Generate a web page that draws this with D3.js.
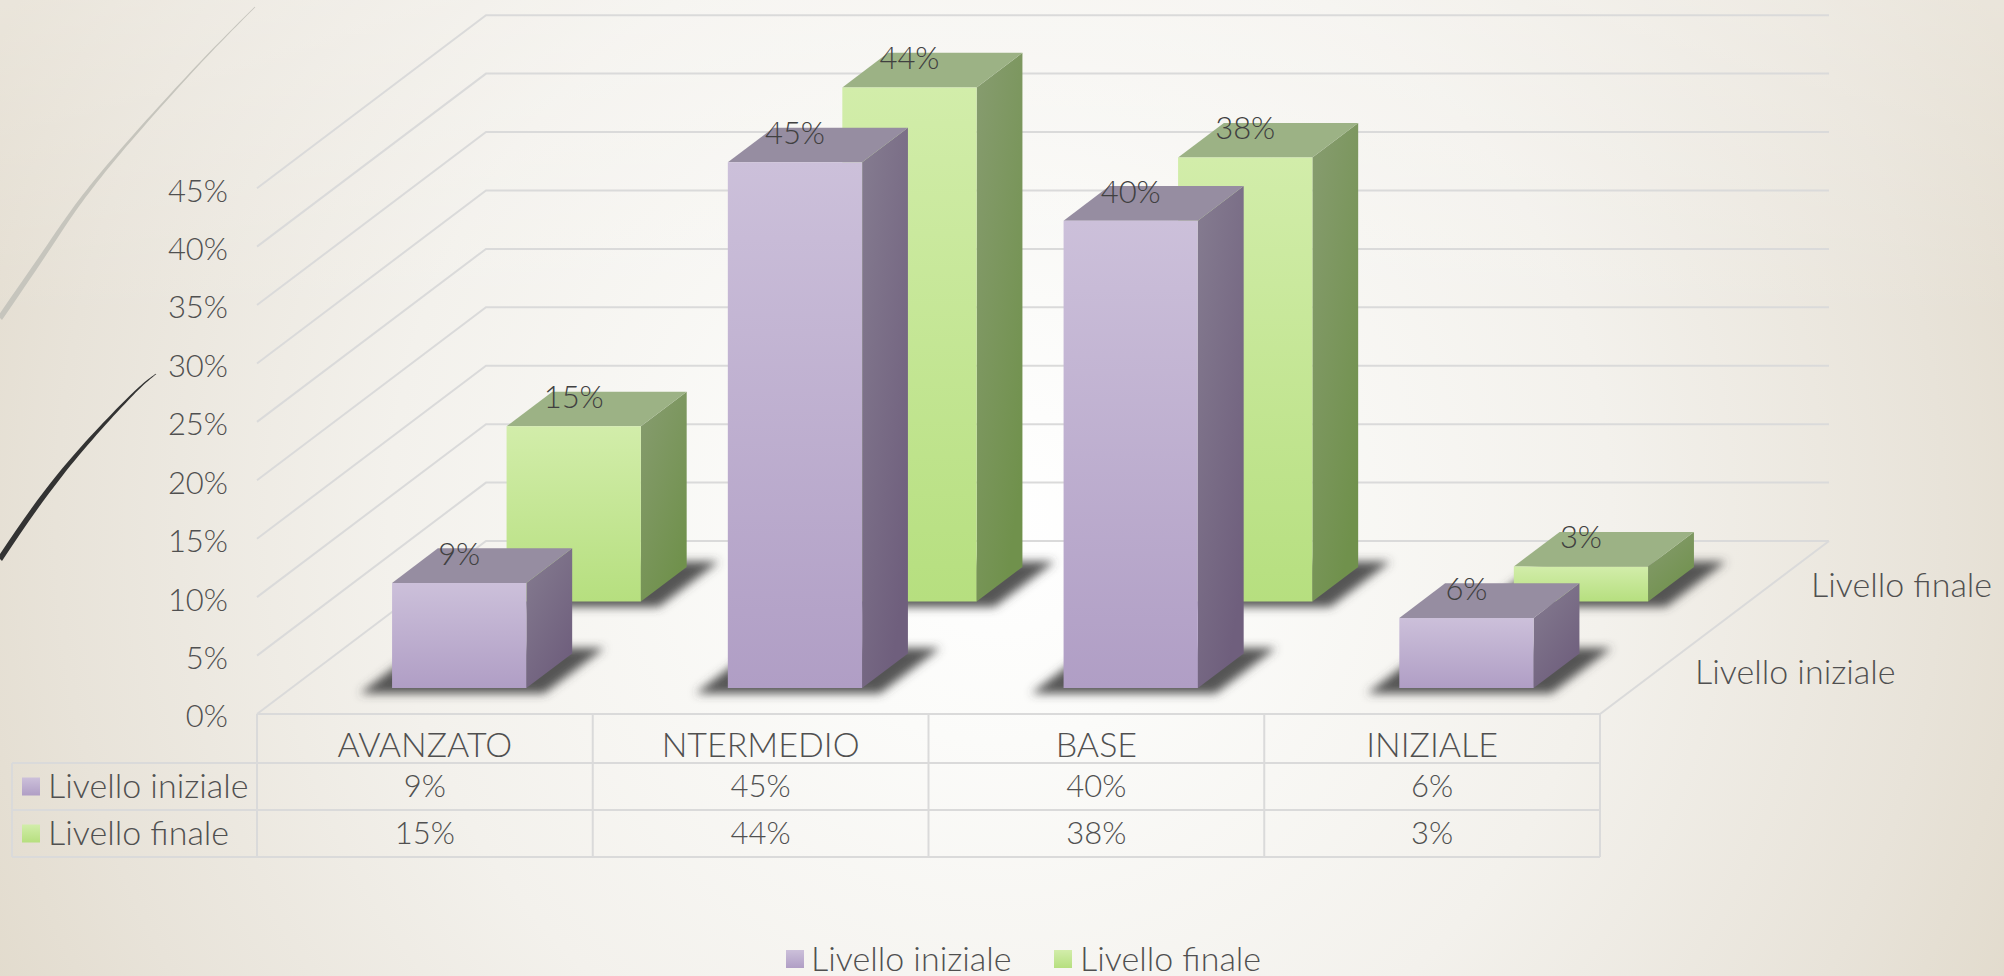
<!DOCTYPE html>
<html><head><meta charset="utf-8">
<script src="https://cdn.jsdelivr.net/npm/d3@7/dist/d3.min.js"></script>
<style>html,body{margin:0;padding:0;overflow:hidden;background:#fff}svg{display:block}
text{font-family:Lato,"Open Sans",sans-serif;font-weight:300;fill:#505050}</style></head>
<body><svg id="c" width="2004" height="976"></svg>
<script>
const categories=["AVANZATO","NTERMEDIO","BASE","INIZIALE"];
const seriesNames=["Livello iniziale","Livello finale"];
const livelloIniziale=[9,45,40,6];
const livelloFinale=[15,44,38,3];
const valueTicks=[0,5,10,15,20,25,30,35,40,45];

const svg=d3.select("#c"),defs=svg.append("defs");
const W=2004,H=976,fs=34,fsNum=31;
const X0=257,X1=1600,Y0=714,DX=229,DY=173,TOP=188.2;
const xBand=d3.scaleBand().domain(categories).range([X0,X1]).paddingInner(0.6).paddingOuter(0.3);
const xCol=d3.scaleBand().domain(categories).range([X0,X1]);
const dBand=d3.scaleBand().domain(seriesNames).range([0,1]).paddingInner(0.6).paddingOuter(0.3);
const yPos=d3.scaleLinear().domain([0,45]).range([Y0,TOP]);
const P=(x,d,v)=>[x+d*DX,yPos(v)-d*DY];
const poly=pts=>pts.map(p=>p.join(",")).join(" ");

function grad(id,stops,x2=0,y2=1){const g=defs.append("linearGradient").attr("id",id).attr("x1",0).attr("y1",0).attr("x2",x2).attr("y2",y2);
 stops.forEach((c,i)=>g.append("stop").attr("offset",i/(stops.length-1)).attr("stop-color",c));}
const bg=defs.append("radialGradient").attr("id","bg").attr("gradientUnits","userSpaceOnUse").attr("cx",1000).attr("cy",520).attr("r",1110);
[[0,"#ffffff"],[0.2,"#fbfbf9"],[0.55,"#f3f1ec"],[0.85,"#e8e3d9"],[1,"#e2dbcd"]].forEach(s=>bg.append("stop").attr("offset",s[0]).attr("stop-color",s[1]));
const veil=defs.append("linearGradient").attr("id","veil").attr("x1",0).attr("y1",0).attr("x2",0).attr("y2",1);
veil.append("stop").attr("offset",0).attr("stop-color","#fff").attr("stop-opacity",0.28);
veil.append("stop").attr("offset",1).attr("stop-color","#fff").attr("stop-opacity",0);
grad("f0",["#ccc0da","#b09ec5"]);grad("s0",["#857c90","#6f5f7d"],0.6,1);
grad("f1",["#d2edaa","#b6df7f"]);grad("s1",["#879c70","#70914c"],0.6,1);
const blur=defs.append("filter").attr("id","sh").attr("x","-30%").attr("y","-40%").attr("width","160%").attr("height","180%");
blur.append("feGaussianBlur").attr("stdDeviation",5);
const topFill=["#968da1","#9cb285"];

svg.append("rect").attr("width",W).attr("height",H).attr("fill","url(#bg)");
svg.append("rect").attr("width",W).attr("height",320).attr("fill","url(#veil)");

// decorative swooshes at the left edge: centre line and width
const swooshes=[
 {pts:[[255,7],[187,77],[100,176],[50,245],[0,318]],w:[0.6,1.2,2.4,3.4,4],c:"#c6c5bd"},
 {pts:[[156,374],[127,400],[60,475],[0,559]],w:[0.5,1.6,3.4,4],c:"#333333"}];
const sw=d3.line().curve(d3.curveNatural);
swooshes.forEach(s=>{
 const a=s.pts.map((p,i)=>[p[0]-s.w[i]/2,p[1]-s.w[i]/2]),b=s.pts.map((p,i)=>[p[0]+s.w[i]/2,p[1]+s.w[i]/2]).reverse();
 svg.append("path").attr("d",sw(a)+"L"+sw(b).slice(1)+"Z").attr("fill",s.c);
});

// walls and floor
const line=svg.append("g").attr("fill","none").attr("stroke","#dadada").attr("stroke-width",2);
valueTicks.forEach(v=>line.append("polyline").attr("points",poly([P(X0,0,v),P(X0,1,v),[X1+DX,yPos(v)-DY]])));
line.append("polyline").attr("points",poly([P(X0,0,0),P(X1,0,0),P(X1,1,0)]));

// table
const table=svg.append("g").attr("fill","none").attr("stroke","#dadada").attr("stroke-width",2);
const rowY=[Y0,763,810,857],keyX=12;
rowY.slice(1).forEach(y=>table.append("line").attr("x1",keyX).attr("x2",X1).attr("y1",y).attr("y2",y));
[X0,...categories.map(c=>xCol(c)+xCol.bandwidth())].forEach(x=>table.append("line").attr("x1",x).attr("x2",x).attr("y1",Y0).attr("y2",rowY[3]));
table.append("line").attr("x1",keyX).attr("x2",keyX).attr("y1",rowY[1]).attr("y2",rowY[3]);

const label=(x,y,t,anchor="middle",size=fs)=>svg.append("text").attr("x",x).attr("y",y).attr("dy","0.35em").attr("text-anchor",anchor).attr("font-size",size).text(t);
categories.forEach(c=>label(xCol(c)+xCol.bandwidth()/2,745,c));
const rows=[livelloIniziale,livelloFinale];
rows.forEach((vals,r)=>{
 const cy=(rowY[r+1]+rowY[r+2])/2;
 vals.forEach((v,i)=>label(xCol(categories[i])+xCol.bandwidth()/2,cy,v+"%","middle",fsNum));
 svg.append("rect").attr("x",22).attr("y",cy-9).attr("width",18).attr("height",18).attr("fill",`url(#f${r})`);
 label(48,cy,seriesNames[r],"start");
});

// value axis
const axis=svg.append("g").attr("transform",`translate(${X0-29},3)`).call(d3.axisLeft(yPos).tickValues(valueTicks).tickFormat(d=>d+"%").tickSize(0).tickPadding(0));
axis.select(".domain").remove();
axis.selectAll("text").attr("font-size",fsNum).style("font-family",'Lato,"Open Sans",sans-serif').style("fill","#505050");

// depth labels
label(1695,672,seriesNames[0],"start");
label(1811,585,seriesNames[1],"start");

// bars: back row first
const shG=svg.append("g"),barG=svg.append("g"),lblG=svg.append("g");
[1,0].forEach(r=>{
 const name=seriesNames[r],d0=dBand(name),d1=d0+dBand.bandwidth(),rowG=barG.append("g");
 rows[r].forEach((v,i)=>{
  const x0=xBand(categories[i]),x1=x0+xBand.bandwidth();
  const e=25,ed=0.032;
  shG.append("polygon").attr("points",poly([P(x0-e,d0-ed,0),P(x1+e,d0-ed,0),P(x1+e,d1+ed,0),P(x0-e,d1+ed,0)]))
   .attr("fill","#444").attr("fill-opacity",0.9).attr("filter","url(#sh)");
  rowG.append("polygon").attr("points",poly([P(x1,d0,0),P(x1,d1,0),P(x1,d1,v),P(x1,d0,v)])).attr("fill",`url(#s${r})`);
  rowG.append("polygon").attr("points",poly([P(x0,d0,v),P(x1,d0,v),P(x1,d1,v),P(x0,d1,v)])).attr("fill",topFill[r]);
  rowG.append("polygon").attr("points",poly([P(x0,d0,0),P(x1,d0,0),P(x1,d0,v),P(x0,d0,v)])).attr("fill",`url(#f${r})`);
  const t=P((x0+x1)/2,d0,v);
  lblG.append("text").attr("x",t[0]).attr("y",t[1]-29).attr("dy","0.35em").attr("text-anchor","middle").attr("font-size",fsNum).style("fill","#404040").text(v+"%");
 });
});

// bottom legend
const leg=[{sx:786,tx:811},{sx:1054,tx:1080}];
leg.forEach((l,r)=>{
 svg.append("rect").attr("x",l.sx).attr("y",950).attr("width",18).attr("height",18).attr("fill",`url(#f${r})`);
 label(l.tx,959,seriesNames[r],"start");
});
</script></body></html>
